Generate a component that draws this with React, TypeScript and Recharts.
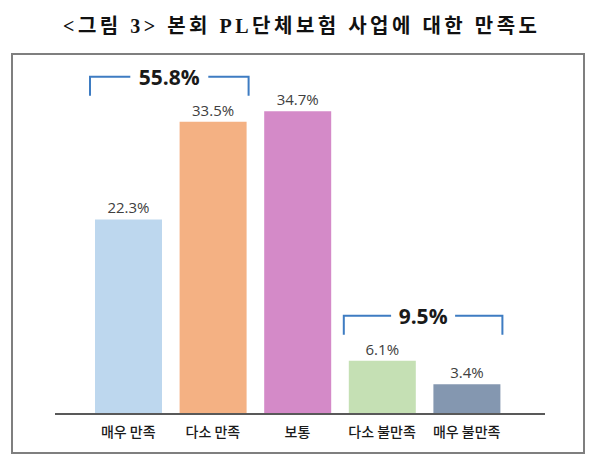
import { BarChart, Bar, XAxis, YAxis, Cell, LabelList } from 'recharts';

const title = '<그림 3> 본회 PL단체보험 사업에 대한 만족도';
const categories = ['매우 만족', '다소 만족', '보통', '다소 불만족', '매우 불만족'];
const values = [22.3, 33.5, 34.7, 6.1, 3.4];
const colors = ['#BDD7EE', '#F4B183', '#D48AC8', '#C5E0B4', '#8497B0'];
const groupStarts = [0, 3];
const groupEnds = [1, 4];
const groupLabels = ['55.8%', '9.5%'];

const data = categories.map((name, i) => ({ name, value: values[i] }));

const W = 600;
const H = 470;
const M = { top: 65, right: 55, bottom: 0, left: 55 };
const PAD = { left: 31, right: 36 };
const BAND = (W - M.left - M.right - PAD.left - PAD.right) / categories.length;
const BRACKET = '#3E7CC2';

const CategoryTick = (props: any) => {
  const { x, y, payload } = props;
  return (
    <text
      x={x}
      y={y}
      dy={15}
      textAnchor="middle"
      fontSize={14}
      fontWeight={500}
      fill="#1a1a1a"
      fontFamily="'Noto Sans CJK KR', sans-serif"
    >
      {payload.value}
    </text>
  );
};

// draws the blue bracket with the summed share over a group of bars
const GroupBracket = (props: any) => {
  const { x, y, width, height, value, index } = props;
  const g = groupStarts.indexOf(index);
  if (g < 0) return null;
  const from = groupStarts[g];
  const to = groupEnds[g];
  const base = y + height;
  const perUnit = height / value;
  const maxVal = Math.max(...values.slice(from, to + 1));
  const top = base - perUnit * maxVal - 45;
  const x1 = x - 5;
  const x2 = x + width + (to - from) * BAND + 2;
  const cx = (x1 + x2) / 2;
  const gap = groupLabels[g].length * 7 + 4;
  return (
    <g>
      <polyline
        points={`${x1},${top + 19} ${x1},${top} ${cx - gap},${top}`}
        fill="none"
        stroke={BRACKET}
        strokeWidth={2}
      />
      <polyline
        points={`${cx + gap},${top} ${x2},${top} ${x2},${top + 19}`}
        fill="none"
        stroke={BRACKET}
        strokeWidth={2}
      />
      <text
        x={cx}
        y={top + 8}
        textAnchor="middle"
        fontSize={21}
        fontWeight="bold"
        fill="#1a1a1a"
        fontFamily="'Open Sans', sans-serif"
      >
        {groupLabels[g]}
      </text>
    </g>
  );
};

const App = () => {
  return (
    <div style={{ position: 'absolute', left: 0, top: 0, width: W, height: H, background: '#fff' }}>
      <svg width={W} height={50} style={{ position: 'absolute', left: 0, top: 0 }}>
        <text
          x={63}
          y={33}
          textLength={474}
          lengthAdjust="spacing"
          fontSize={20}
          fontWeight="bold"
          fill="#111"
          fontFamily="'Liberation Serif', 'Noto Sans CJK KR', serif"
        >
          {title}
        </text>
      </svg>
      <div
        style={{
          position: 'absolute',
          left: 11,
          top: 53,
          width: 574,
          height: 401,
          border: '2px solid #7f7f7f',
          boxSizing: 'border-box',
        }}
      />
      <div style={{ position: 'absolute', left: 0, top: 0 }}>
        <BarChart width={W} height={H} data={data} margin={M}>
          <XAxis
            dataKey="name"
            height={56}
            padding={PAD}
            tickLine={false}
            axisLine={{ stroke: '#595959', strokeWidth: 2 }}
            tick={<CategoryTick />}
            interval={0}
          />
          <YAxis hide domain={[0, 40]} />
          <Bar dataKey="value" barSize={67} isAnimationActive={false}>
            {data.map((d, i) => (
              <Cell key={d.name} fill={colors[i]} />
            ))}
            <LabelList
              dataKey="value"
              position="top"
              offset={6}
              formatter={(v: any) => `${v}%`}
              fontSize={15}
              fill="#404040"
              fontFamily="'Open Sans', sans-serif"
            />
            <LabelList dataKey="value" content={<GroupBracket />} />
          </Bar>
        </BarChart>
      </div>
    </div>
  );
};

export default App;
